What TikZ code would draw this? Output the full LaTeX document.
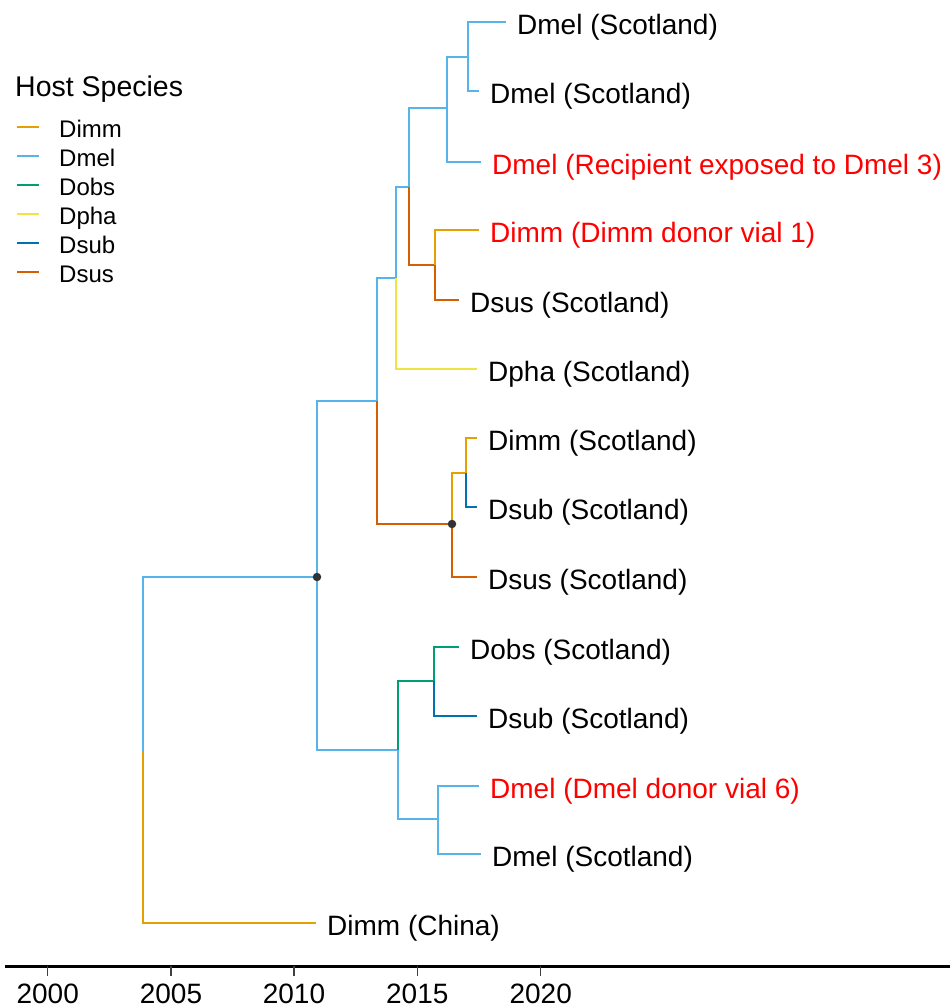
\documentclass[tikz,border=0pt]{standalone}
\usepackage{fontspec}
\setmainfont{Liberation Sans}
\definecolor{cDimm}{HTML}{E69F00}
\definecolor{cDmel}{HTML}{56B4E9}
\definecolor{cDobs}{HTML}{009E73}
\definecolor{cDpha}{HTML}{F0E442}
\definecolor{cDsub}{HTML}{0072B2}
\definecolor{cDsus}{HTML}{D55E00}
\definecolor{hilite}{HTML}{FF0000}
\definecolor{dotgrey}{HTML}{333333}
\begin{document}
\begin{tikzpicture}[x=1pt,y=-1pt,
  branch/.style={line width=2.3pt, line join=miter},
  tiplabel/.style={anchor=base west, inner sep=0pt, font=\fontsize{28}{32}\selectfont, text=black},
  marked/.style={text=hilite},
  nodedot/.style={circle, fill=dotgrey, inner sep=0pt, minimum size=8.5pt},
  legtext/.style={anchor=base west, inner sep=0pt, font=\fontsize{24}{28}\selectfont},
  ticklabel/.style={anchor=base, inner sep=0pt, font=\fontsize{28}{32}\selectfont},
]
\useasboundingbox (0,0) rectangle (950,1007);

% internal nodes
\coordinate (root) at (143,751);
\coordinate (nE) at (317,577);
\coordinate (nC) at (377,401);
\coordinate (nB) at (396,278);
\coordinate (nA) at (409,187);
\coordinate (n123) at (447,108);
\coordinate (n12) at (468,57);
\coordinate (n45) at (435,265);
\coordinate (n789) at (452,524);
\coordinate (n78) at (466,473);
\coordinate (nD) at (398,750);
\coordinate (n1011) at (434,681);
\coordinate (n1213) at (438,819);

% tips
\coordinate (t1) at (506,22);
\coordinate (t2) at (479,91);
\coordinate (t3) at (481,162);
\coordinate (t4) at (479,230);
\coordinate (t5) at (459,300);
\coordinate (t6) at (477,369);
\coordinate (t7) at (477,438);
\coordinate (t8) at (477,507);
\coordinate (t9) at (477,577);
\coordinate (t10) at (459,647);
\coordinate (t11) at (477,716);
\coordinate (t12) at (479,786);
\coordinate (t13) at (481,854);
\coordinate (t14) at (316,923);

% branches, coloured by host species of the child
\draw[branch, cDmel] (root) |- (nE);
\draw[branch, cDimm] (root) |- (t14);
\draw[branch, cDmel] (nE) |- (nC);
\draw[branch, cDmel] (nE) |- (nD);
\draw[branch, cDmel] (nC) |- (nB);
\draw[branch, cDsus] (nC) |- (n789);
\draw[branch, cDmel] (nB) |- (nA);
\draw[branch, cDpha] (nB) |- (t6);
\draw[branch, cDmel] (nA) |- (n123);
\draw[branch, cDsus] (nA) |- (n45);
\draw[branch, cDmel] (n123) |- (n12);
\draw[branch, cDmel] (n123) |- (t3);
\draw[branch, cDmel] (n12) |- (t1);
\draw[branch, cDmel] (n12) |- (t2);
\draw[branch, cDimm] (n45) |- (t4);
\draw[branch, cDsus] (n45) |- (t5);
\draw[branch, cDimm] (n789) |- (n78);
\draw[branch, cDsus] (n789) |- (t9);
\draw[branch, cDimm] (n78) |- (t7);
\draw[branch, cDsub] (n78) |- (t8);
\draw[branch, cDobs] (nD) |- (n1011);
\draw[branch, cDmel] (nD) |- (n1213);
\draw[branch, cDobs] (n1011) |- (t10);
\draw[branch, cDsub] (n1011) |- (t11);
\draw[branch, cDmel] (n1213) |- (t12);
\draw[branch, cDmel] (n1213) |- (t13);

% highlighted nodes
\node[nodedot] (dotE) at (nE) {};
\node[nodedot] (dot789) at (n789) {};

% tip labels
\node[tiplabel] (L1) at ([shift={(11,12.5)}]t1) {Dmel (Scotland)};
\node[tiplabel] (L2) at ([shift={(11,12.5)}]t2) {Dmel (Scotland)};
\node[tiplabel, marked] (L3) at ([shift={(11,12.5)}]t3) {Dmel (Recipient exposed to Dmel 3)};
\node[tiplabel, marked] (L4) at ([shift={(11,12.5)}]t4) {Dimm (Dimm donor vial 1)};
\node[tiplabel] (L5) at ([shift={(11,12.5)}]t5) {Dsus (Scotland)};
\node[tiplabel] (L6) at ([shift={(11,12.5)}]t6) {Dpha (Scotland)};
\node[tiplabel] (L7) at ([shift={(11,12.5)}]t7) {Dimm (Scotland)};
\node[tiplabel] (L8) at ([shift={(11,12.5)}]t8) {Dsub (Scotland)};
\node[tiplabel] (L9) at ([shift={(11,12.5)}]t9) {Dsus (Scotland)};
\node[tiplabel] (L10) at ([shift={(11,12.5)}]t10) {Dobs (Scotland)};
\node[tiplabel] (L11) at ([shift={(11,12.5)}]t11) {Dsub (Scotland)};
\node[tiplabel, marked] (L12) at ([shift={(11,12.5)}]t12) {Dmel (Dmel donor vial 6)};
\node[tiplabel] (L13) at ([shift={(11,12.5)}]t13) {Dmel (Scotland)};
\node[tiplabel] (L14) at ([shift={(11,12.5)}]t14) {Dimm (China)};

% time axis
\coordinate (axL) at (5,966);
\coordinate (axR) at (950,966);
\draw[line width=3pt, black] (axL) -- (axR);
\foreach \yr/\xx in {2000/47.7, 2005/171, 2010/294, 2015/417.3, 2020/540.7} {
  \coordinate (tk\yr) at (\xx,966);
  \coordinate (tkb\yr) at (\xx,976);
  \draw[line width=1.2pt, black!75] (tk\yr) -- (tkb\yr);
  \node[ticklabel] (lab\yr) at (\xx,1003) {\yr};
}

% legend
\node[anchor=base west, inner sep=0pt, font=\fontsize{28.5}{32}\selectfont] (legtitle) at (15,96) {Host Species};
\foreach \sp/\yy in {Dimm/127, Dmel/156, Dobs/185, Dpha/214, Dsub/243, Dsus/272} {
  \coordinate (key\sp a) at (17,\yy);
  \coordinate (key\sp b) at (39,\yy);
  \draw[line width=2.3pt, c\sp] (key\sp a) -- (key\sp b);
  \node[legtext] (leg\sp) at (59,\yy+10.5) {\sp};
}
\end{tikzpicture}
\end{document}
